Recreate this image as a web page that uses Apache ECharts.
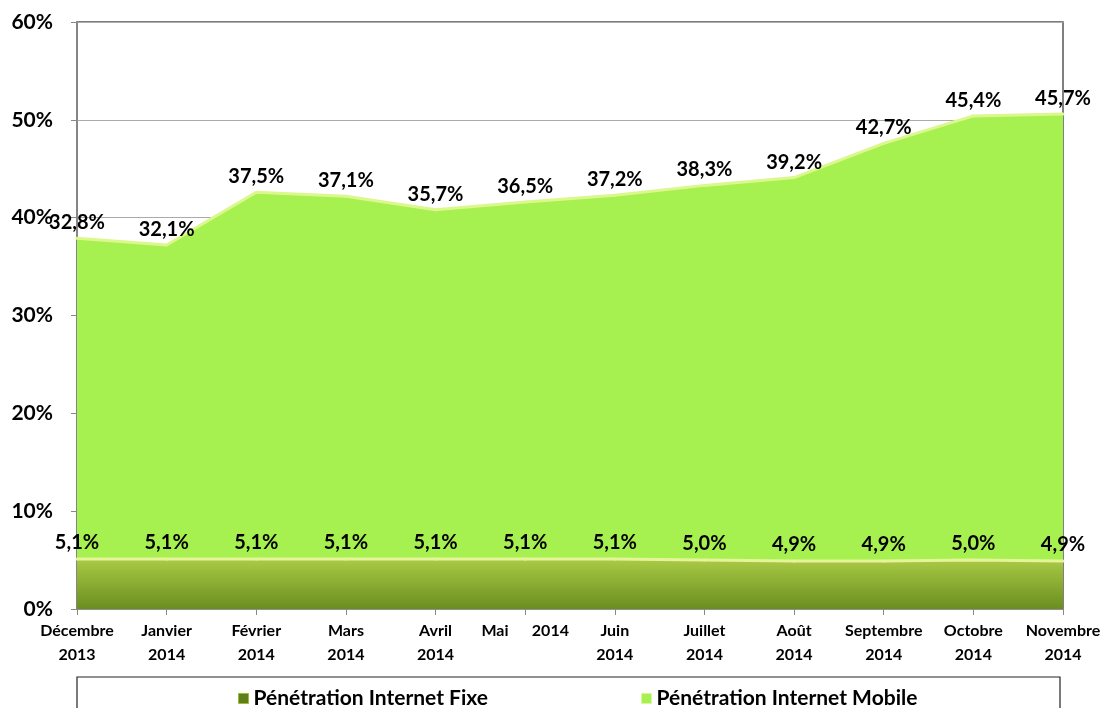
<!DOCTYPE html>
<html>
<head>
<meta charset="utf-8">
<script src="https://cdn.jsdelivr.net/npm/echarts@6/dist/echarts.min.js"></script>
<style>
    html, body {margin: 0; padding: 0; background: #fff;}
    #chart {width: 1105px; height: 708px;}
</style>
</head>
<body>
<div id="chart"></div>
<script>
    // mois (deux lignes)
    var months = ['Décembre\n2013', 'Janvier\n2014', 'Février\n2014', 'Mars\n2014', 'Avril\n2014',
        'Mai      2014', 'Juin\n2014', 'Juillet\n2014', 'Août\n2014', 'Septembre\n2014',
        'Octobre\n2014', 'Novembre\n2014'];
    var fixe = [5.1, 5.1, 5.1, 5.1, 5.1, 5.1, 5.1, 5.0, 4.9, 4.9, 5.0, 4.9];
    var mobile = [32.8, 32.1, 37.5, 37.1, 35.7, 36.5, 37.2, 38.3, 39.2, 42.7, 45.4, 45.7];
    var yTicks = [0, 10, 20, 30, 40, 50, 60];

    var fontName = 'Lato, "Open Sans", sans-serif';

    function pct(v) {
        return v.toFixed(1).replace('.', ',') + '%';
    }

    var myChart = echarts.init(document.getElementById('chart'));

    var option = {
        backgroundColor: '#fff',
        animation: false,
        textStyle: {fontFamily: fontName},
        grid: {
            left: 77, right: 42, top: 22, bottom: 99,
            show: true, borderColor: '#555', borderWidth: 1.5, backgroundColor: 'transparent'
        },
        legend: [{
            left: 233, top: 683,
            itemWidth: 10, itemHeight: 10, itemGap: 6,
            icon: 'rect',
            textStyle: {fontSize: 21, fontWeight: 'bold', color: '#000', fontFamily: fontName},
            data: [{name: 'Pénétration Internet Fixe', itemStyle: {color: '#5f7f1c', borderColor: '#9cbb3a', borderWidth: 1, opacity: 1}}]
        }, {
            left: 636, top: 683,
            itemWidth: 10, itemHeight: 10, itemGap: 6,
            icon: 'rect',
            textStyle: {fontSize: 21, fontWeight: 'bold', color: '#000', fontFamily: fontName},
            data: [{name: 'Pénétration Internet Mobile', itemStyle: {color: '#a6f04f', borderColor: '#d6f7a0', borderWidth: 1, opacity: 1}}]
        }],
        graphic: [{
            type: 'rect',
            shape: {x: 77, y: 677, width: 983, height: 40},
            style: {fill: 'none', stroke: '#222', lineWidth: 1.2},
            z: 100
        }],
        xAxis: {
            type: 'category',
            boundaryGap: false,
            data: months,
            axisLine: {lineStyle: {color: '#888', width: 1.5}},
            axisTick: {show: true, alignWithLabel: true, length: 6, lineStyle: {color: '#888'}},
            axisLabel: {
                color: '#000', fontWeight: 'bold', fontSize: 16, lineHeight: 24,
                margin: 10, interval: 0, fontFamily: fontName
            },
            splitLine: {show: false},
            z: 1
        },
        yAxis: {
            type: 'value',
            min: yTicks[0], max: yTicks[yTicks.length - 1], interval: 10,
            axisLine: {show: true, lineStyle: {color: '#888', width: 1.5}},
            axisTick: {show: true, length: 6, lineStyle: {color: '#888'}},
            axisLabel: {
                color: '#000', fontWeight: 'bold', fontSize: 21, margin: 24,
                fontFamily: fontName,
                formatter: function (v) { return v + '%'; }
            },
            splitLine: {show: true, lineStyle: {color: '#aaa', width: 1.2}},
            z: 1
        },
        series: [{
            name: 'Pénétration Internet Fixe',
            type: 'line',
            stack: 'total',
            data: fixe,
            symbol: 'circle',
            symbolSize: 3,
            showSymbol: true,
            itemStyle: {color: '#e6f39a'},
            lineStyle: {color: '#e6f39a', width: 3},
            areaStyle: {
                opacity: 1,
                color: new echarts.graphic.LinearGradient(0, 0, 0, 1, [
                    {offset: 0, color: '#a9cb45'},
                    {offset: 1, color: '#6a8d20'}
                ])
            },
            label: {
                show: true, position: 'top', distance: 5,
                color: '#000', fontWeight: 'bold', fontSize: 20, fontFamily: fontName,
                formatter: function (p) { return pct(p.value); }
            },
            z: 3
        }, {
            name: 'Pénétration Internet Mobile',
            type: 'line',
            stack: 'total',
            data: mobile,
            symbol: 'circle',
            symbolSize: 3,
            showSymbol: true,
            itemStyle: {color: '#ddf78f'},
            lineStyle: {color: '#ddf78f', width: 3},
            areaStyle: {opacity: 1, color: '#a6f04f'},
            label: {
                show: true, position: 'top', distance: 4,
                color: '#000', fontWeight: 'bold', fontSize: 20, fontFamily: fontName,
                formatter: function (p) { return pct(p.value); }
            },
            z: 2
        }]
    };

    myChart.setOption(option);
</script>
</body>
</html>
